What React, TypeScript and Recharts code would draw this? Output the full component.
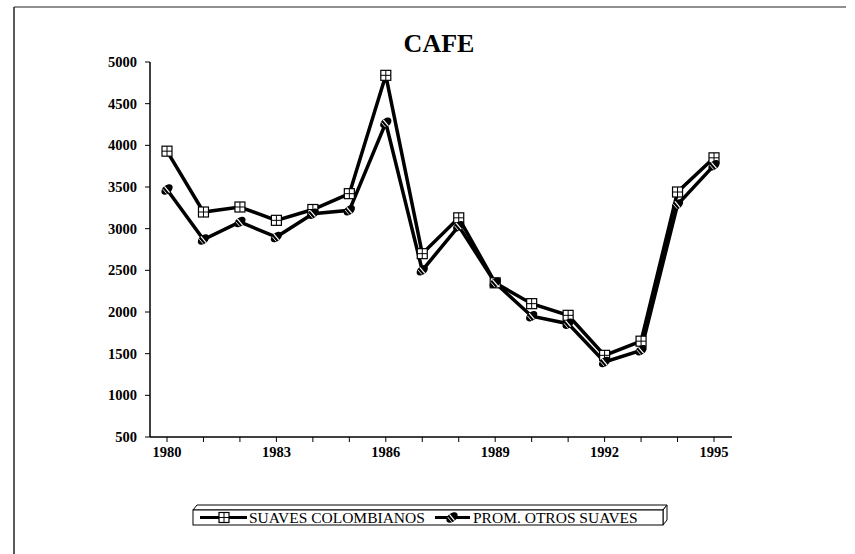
import React from "react";
import { LineChart, Line, XAxis, YAxis } from "recharts";

const years = [1980, 1981, 1982, 1983, 1984, 1985, 1986, 1987, 1988, 1989, 1990, 1991, 1992, 1993, 1994, 1995];
const suavesColombianos = [3930, 3200, 3260, 3100, 3230, 3420, 4840, 2700, 3130, 2350, 2100, 1960, 1480, 1650, 3440, 3850];
const promOtrosSuaves = [3470, 2870, 3080, 2900, 3180, 3220, 4270, 2500, 3030, 2350, 1950, 1860, 1400, 1540, 3290, 3760];
const yTicks = [500, 1000, 1500, 2000, 2500, 3000, 3500, 4000, 4500, 5000];
const xLabelYears = [1980, 1983, 1986, 1989, 1992, 1995];
const seriesNames = ["SUAVES COLOMBIANOS", "PROM. OTROS SUAVES"];
const title = "CAFE";

const data = years.map((y, i) => ({ year: y, sc: suavesColombianos[i], pos: promOtrosSuaves[i] }));

const SERIF = '"Liberation Serif", "Times New Roman", Times, "DejaVu Serif", serif';

const SquareMark = ({ cx, cy }: { cx: number; cy: number }) => (
  <g>
    <rect x={cx - 5} y={cy - 5} width={10} height={10} fill="#fff" stroke="#000" strokeWidth={1.2} />
    <line x1={cx - 5} x2={cx + 5} y1={cy} y2={cy} stroke="#000" strokeWidth={1} />
    <line x1={cx} x2={cx} y1={cy - 5} y2={cy + 5} stroke="#000" strokeWidth={1} />
  </g>
);

const DiamondMark = ({ cx, cy }: { cx: number; cy: number }) => (
  <g transform={`translate(${cx},${cy}) rotate(-40)`}>
    <ellipse cx={0} cy={0} rx={6.5} ry={4.2} fill="#000" />
    <line x1={0} x2={0} y1={-4} y2={4} stroke="#fff" strokeWidth={1.2} />
    <line x1={-3} x2={-3} y1={-3} y2={3} stroke="#fff" strokeWidth={0.8} />
  </g>
);

const SquareDot = (props: any) => {
  const { cx, cy, index } = props;
  if (cx == null || cy == null) return <g key={index} />;
  return <g key={`s${index}`}><SquareMark cx={cx} cy={cy} /></g>;
};
const DiamondDot = (props: any) => {
  const { cx, cy, index } = props;
  if (cx == null || cy == null) return <g key={index} />;
  return <g key={`d${index}`}><DiamondMark cx={cx} cy={cy} /></g>;
};

const tickStyle = { fill: "#000", fontFamily: SERIF, fontSize: 14.5, fontWeight: "bold" as const };

export default function App() {
  return (
    <div style={{ position: "absolute", left: 0, top: 0, width: 855, height: 554, background: "#fff", fontFamily: SERIF }}>
      <LineChart
        width={855}
        height={554}
        data={data}
        margin={{ top: 62, right: 123, bottom: 87, left: 0 }}
        style={{ fontFamily: SERIF }}
      >
        <XAxis
          dataKey="year"
          type="number"
          domain={[1980, 1995]}
          ticks={years}
          interval={0}
          padding={{ left: 17, right: 18 }}
          tickFormatter={(v: number) => (xLabelYears.includes(v) ? String(v) : "")}
          height={30}
          tickSize={5}
          tickMargin={5}
          axisLine={{ stroke: "#000", strokeWidth: 1.5 }}
          tickLine={{ stroke: "#000" }}
          tick={tickStyle}
        />
        <XAxis
          xAxisId="top"
          orientation="top"
          dataKey="year"
          type="number"
          domain={[1980, 1995]}
          height={0}
          tick={false}
          tickLine={false}
          axisLine={{ stroke: "#444", strokeWidth: 1 }}
        />
        <YAxis
          type="number"
          domain={[500, 5000]}
          ticks={yTicks}
          interval={0}
          allowDataOverflow
          width={150}
          tickSize={5}
          tickMargin={8}
          axisLine={{ stroke: "#000", strokeWidth: 1.5 }}
          tickLine={{ stroke: "#000" }}
          tick={tickStyle}
        />
        <YAxis
          yAxisId="right"
          orientation="right"
          type="number"
          domain={[500, 5000]}
          width={0}
          tick={false}
          tickLine={false}
          axisLine={{ stroke: "#333", strokeWidth: 1 }}
        />
        <Line
          dataKey="sc"
          name={seriesNames[0]}
          stroke="#000"
          strokeWidth={3.5}
          dot={SquareDot}
          activeDot={false}
          isAnimationActive={false}
        />
        <Line
          dataKey="pos"
          name={seriesNames[1]}
          stroke="#000"
          strokeWidth={3.5}
          dot={DiamondDot}
          activeDot={false}
          isAnimationActive={false}
        />
      </LineChart>
      <svg
        width={855}
        height={554}
        style={{ position: "absolute", left: 0, top: 0, pointerEvents: "none", fontFamily: SERIF }}
      >
        <line x1={14} x2={14} y1={7} y2={554} stroke="#222" strokeWidth={1.5} />
        <line x1={14} x2={846} y1={7} y2={7} stroke="#222" strokeWidth={1.2} />
        <text x={439} y={52} textAnchor="middle" style={{ fontFamily: SERIF }} fontWeight="bold" fontSize={26} fill="#000">
          {title}
        </text>
        <polygon points="193,510 197,505 667,505 663,510" fill="#fff" stroke="#000" strokeWidth={1} />
        <polygon points="663,510 667,505 667,520 663,525" fill="#fff" stroke="#000" strokeWidth={1} />
        <rect x={193} y={510} width={470} height={15} fill="#fff" stroke="#000" strokeWidth={1} />
        <line x1={200} x2={247} y1={517.5} y2={517.5} stroke="#000" strokeWidth={3} />
        <SquareMark cx={224} cy={517.5} />
        <text x={249} y={523} style={{ fontFamily: SERIF }} fontSize={15.5} fill="#000">{seriesNames[0]}</text>
        <line x1={435} x2={470} y1={517.5} y2={517.5} stroke="#000" strokeWidth={3} />
        <DiamondMark cx={452} cy={517.5} />
        <text x={473} y={523} style={{ fontFamily: SERIF }} fontSize={15.5} fill="#000">{seriesNames[1]}</text>
      </svg>
    </div>
  );
}
